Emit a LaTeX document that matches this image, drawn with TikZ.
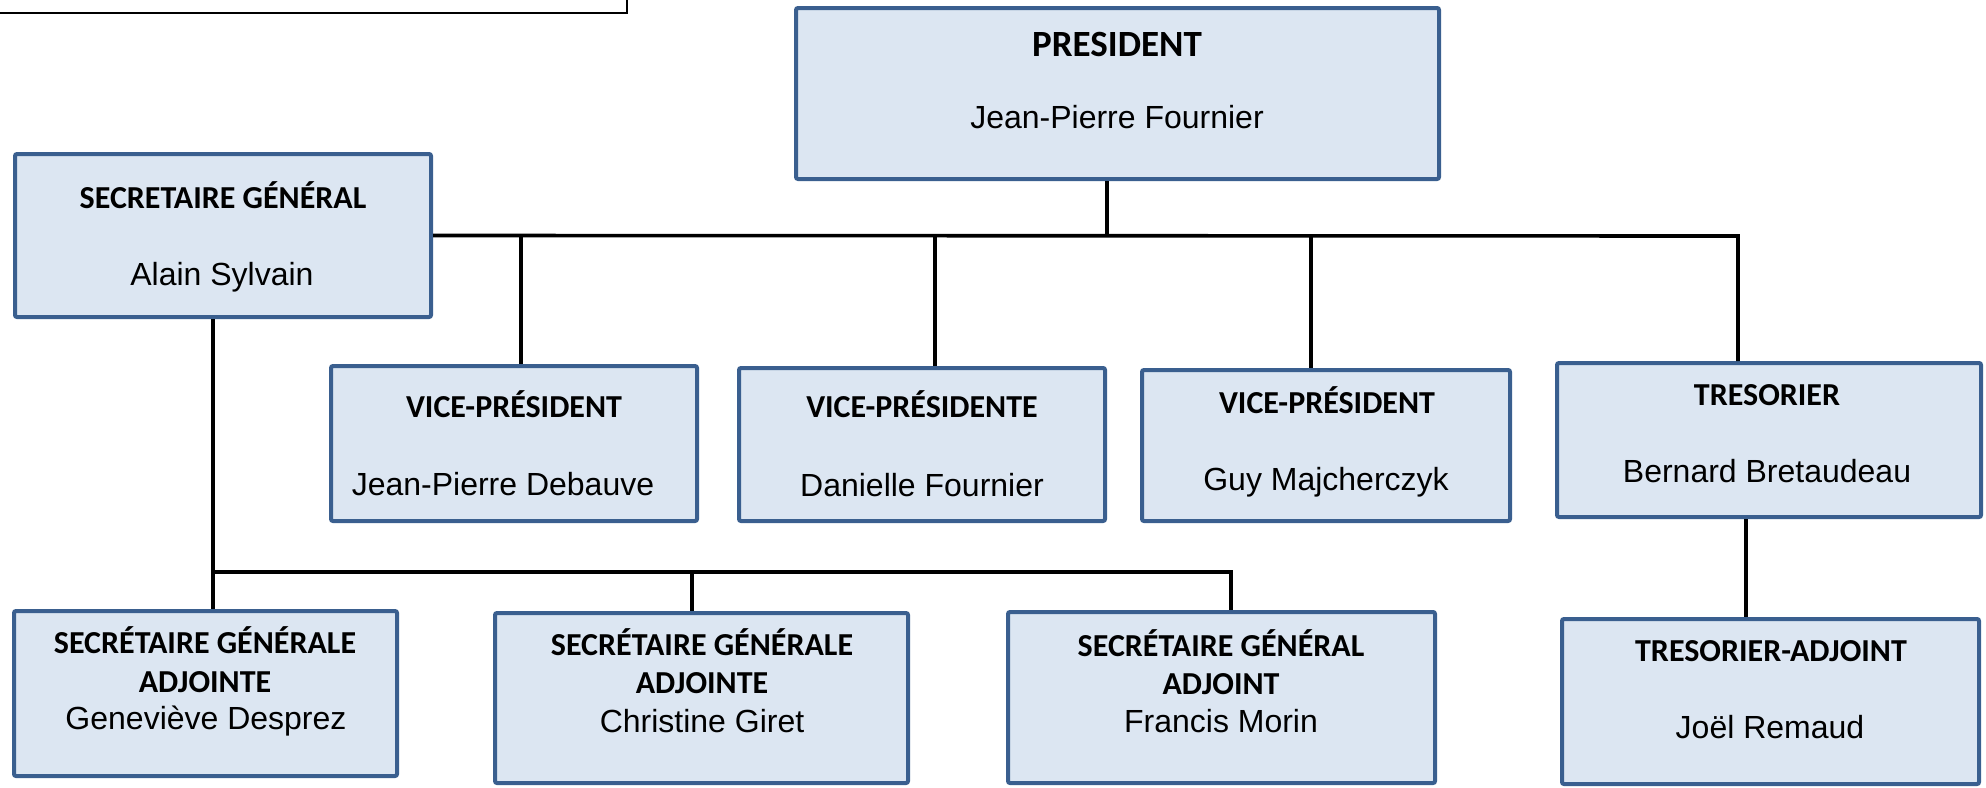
\documentclass[tikz,border=0pt]{standalone}
\usepackage{fontspec}
\usepackage{xcolor}
\usepackage{tikz}
\setmainfont{Liberation Sans}
\newfontfamily\carlito{Carlito}
\definecolor{boxblue}{HTML}{3A5F8F}
\definecolor{boxfill}{HTML}{DCE6F2}

\begin{document}
\begin{tikzpicture}[x=0.5pt, y=-0.5pt,
  box/.style={draw=boxblue, fill=boxfill, line width=2pt, rounded corners=1pt, inner sep=0pt},
  role/.style={font=\carlito\bfseries\fontsize{16}{19}\selectfont, anchor=base, inner sep=0pt},
  who/.style={font=\fontsize{16}{19}\selectfont, anchor=base, inner sep=0pt},
  link/.style={line width=1.8pt}]
\clip (0,0) rectangle (1986,787);
% Frame
\draw[line width=1pt] (-10,-10) rectangle (627,13);

% Boxes
\node[box, minimum width=321.5pt, minimum height=85.5pt] (pres) at (1117.5,93.5) {};
\node[box, minimum width=208pt, minimum height=81.5pt] (sg) at (223,235.5) {};
\node[box, minimum width=183pt, minimum height=77.5pt] (vpa) at (514,443.5) {};
\node[box, minimum width=183pt, minimum height=76.5pt] (vpb) at (922,444.5) {};
\node[box, minimum width=184pt, minimum height=75.5pt] (vpc) at (1326,445.5) {};
\node[box, minimum width=212pt, minimum height=77pt] (tres) at (1769,440) {};
\node[box, minimum width=208.5pt, minimum height=82.5pt] (tradj) at (1770.5,701.5) {};
\node[box, minimum width=191.5pt, minimum height=82.5pt] (sga) at (205.5,693.5) {};
\node[box, minimum width=206.5pt, minimum height=85pt] (sgb) at (701.5,698) {};
\node[box, minimum width=213.5pt, minimum height=85.5pt] (sgc) at (1221.5,697.5) {};

% Texts
\node[role, font=\carlito\bfseries\fontsize{18.5}{22}\selectfont] (pres-t) at (1117,56) {PRESIDENT};
\node[who] (pres-n) at (1117,128) {Jean-Pierre Fournier};
\node[role] (sg-t) at (223,208) {SECRETAIRE GÉNÉRAL};
\node[who] (sg-n) at (222,285) {Alain Sylvain};
\node[role] (vpa-t) at (514,417) {VICE-PRÉSIDENT};
\node[who] (vpa-n) at (503,495) {Jean-Pierre Debauve};
\node[role] (vpb-t) at (922,417) {VICE-PRÉSIDENTE};
\node[who] (vpb-n) at (922,496) {Danielle Fournier};
\node[role] (vpc-t) at (1327,413) {VICE-PRÉSIDENT};
\node[who] (vpc-n) at (1326,490) {Guy Majcherczyk};
\node[role] (tres-t) at (1767,405) {TRESORIER};
\node[who] (tres-n) at (1767,482.5) {Bernard Bretaudeau};
\node[role] (tradj-t) at (1771,661) {TRESORIER-ADJOINT};
\node[who] (tradj-n) at (1770,738) {Joël Remaud};
\node[role] (sga-t) at (205,653) {SECRÉTAIRE GÉNÉRALE};
\node[role] (sga-u) at (205,692) {ADJOINTE};
\node[who] (sga-n) at (206,729) {Geneviève Desprez};
\node[role] (sgb-t) at (702,655) {SECRÉTAIRE GÉNÉRALE};
\node[role] (sgb-u) at (702,693) {ADJOINTE};
\node[who] (sgb-n) at (702,732) {Christine Giret};
\node[role] (sgc-t) at (1221,656) {SECRÉTAIRE GÉNÉRAL};
\node[role] (sgc-u) at (1221,694) {ADJOINT};
\node[who] (sgc-n) at (1221,732) {Francis Morin};

% Junctions
\coordinate (hub) at (1107,236);
\coordinate (ja) at (521,236);
\coordinate (jb) at (935,236);
\coordinate (jc) at (1311,236);
\coordinate (jt) at (1738,236);
\coordinate (ks) at (213,572);
\coordinate (kb) at (692,572);
\coordinate (kc) at (1231,572);
\coordinate (tt) at (1746,0);

%Lines
\draw[link] (hub |- pres.south) -- (hub);
\draw[link] (sg.east) -- (jt) -- (jt |- tres.north);
\draw[link] (ja) -- (ja |- vpa.north);
\draw[link] (jb) -- (jb |- vpb.north);
\draw[link] (jc) -- (jc |- vpc.north);
\draw[link] (ks |- sg.south) -- (ks |- sga.north);
\draw[link] (ks) -- (kc) -- (kc |- sgc.north);
\draw[link] (kb) -- (kb |- sgb.north);
\draw[link] (tt |- tres.south) -- (tt |- tradj.north);
\end{tikzpicture}
\end{document}
